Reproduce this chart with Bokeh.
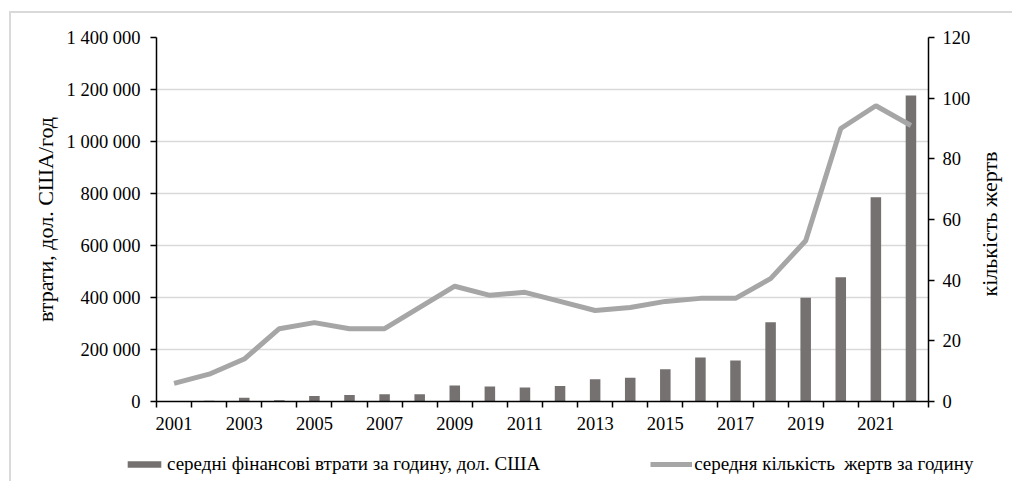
from bokeh.plotting import figure
from bokeh.models import (ColumnDataSource, LinearAxis, Range1d, FixedTicker,
                          Legend, LegendItem, Div)
from bokeh.embed import file_html
from bokeh.resources import INLINE

# Data: hourly average losses (USD) and hourly average number of victims
years = list(range(2001, 2023))
losses = [0, 3000, 14000, 5000, 21000, 25000, 28000, 28000, 62000, 58000, 54000,
          60000, 86000, 91000, 124000, 169000, 158000, 305000, 399000, 478000,
          786000, 1177000]
victims = [6, 9, 14, 24, 26, 24, 24, 31, 38, 35, 36, 33, 30, 31, 33, 34, 34,
           40.5, 53, 90, 97.5, 91]

left_ticks = [0, 200000, 400000, 600000, 800000, 1000000, 1200000, 1400000]
right_ticks = [0, 20, 40, 60, 80, 100, 120]
label_years = [y for y in years if y % 2 == 1]

FONT = "Liberation Serif"
BAR_COLOR = "#767171"
LINE_COLOR = "#a6a6a6"
TICK_SIZE = "18.5px"
TITLE_SIZE = "22px"
W = 1003

src = ColumnDataSource(dict(year=years, losses=losses, victims=victims))

p = figure(width=W, height=440, output_backend="svg", toolbar_location=None,
           x_range=Range1d(2000.5, 2022.5), y_range=Range1d(0, 1400000),
           min_border_left=145, min_border_right=86, min_border_top=24,
           min_border_bottom=52)
p.styles = {"margin-left": "9px", "margin-top": "11px",
            "border-left": "2px solid #d9d9d9", "border-top": "2px solid #d9d9d9"}
p.outline_line_color = None
p.background_fill_color = "white"
p.border_fill_color = "white"

p.extra_y_ranges = {"victims": Range1d(0, 120)}

p.vbar(x="year", top="losses", width=0.3, source=src,
       fill_color=BAR_COLOR, line_color=None)
p.line(x="year", y="victims", source=src, y_range_name="victims",
       line_color=LINE_COLOR, line_width=5)

# x axis: year labels at odd years, tick marks on category boundaries
xa = p.xaxis[0]
xa.ticker = FixedTicker(ticks=label_years,
                        minor_ticks=[y - 0.5 for y in years] + [years[-1] + 0.5])
xa.major_tick_out = 0
xa.major_tick_in = 0
xa.minor_tick_out = 6
xa.minor_tick_in = 0
xa.minor_tick_line_color = "black"
xa.minor_tick_line_width = 1.5
xa.axis_line_color = "black"
xa.axis_line_width = 1.5
xa.major_label_text_font = FONT
xa.major_label_text_font_size = TICK_SIZE
xa.major_label_text_color = "black"
xa.major_label_standoff = 9

# left axis
ya = p.yaxis[0]
ya.ticker = FixedTicker(ticks=left_ticks)
ya.major_label_overrides = {v: f"{v:,}".replace(",", " ") for v in left_ticks}
ya.minor_tick_line_color = None
ya.major_tick_out = 6
ya.major_tick_in = 0
ya.major_tick_line_color = "black"
ya.major_tick_line_width = 1.5
ya.axis_line_color = "black"
ya.axis_line_width = 1.5
ya.major_label_text_font = FONT
ya.major_label_text_font_size = TICK_SIZE
ya.major_label_text_color = "black"
ya.major_label_standoff = 10
ya.axis_label = "втрати, дол. США/год"
ya.axis_label_text_font = FONT
ya.axis_label_text_font_size = TITLE_SIZE
ya.axis_label_text_font_style = "normal"
ya.axis_label_text_color = "black"
ya.axis_label_standoff = 6

# right axis (its title is set separately, reading bottom to top)
ra = LinearAxis(y_range_name="victims", ticker=FixedTicker(ticks=right_ticks))
ra.minor_tick_line_color = None
ra.major_tick_out = 6
ra.major_tick_in = 0
ra.major_tick_line_color = "black"
ra.major_tick_line_width = 1.5
ra.axis_line_color = "black"
ra.axis_line_width = 1.5
ra.major_label_text_font = FONT
ra.major_label_text_font_size = TICK_SIZE
ra.major_label_text_color = "black"
ra.major_label_standoff = 8
p.add_layout(ra, "right")

p.xgrid.grid_line_color = None
p.ygrid.ticker = FixedTicker(ticks=left_ticks)
p.ygrid.grid_line_color = "#d9d9d9"
p.ygrid.grid_line_width = 1.5

# legend strip underneath the chart
lp = figure(width=W, height=30, output_backend="svg", toolbar_location=None,
            x_range=Range1d(0, 1), y_range=Range1d(0, 1),
            min_border=0, outline_line_color=None)
lp.styles = {"margin-left": "9px", "border-left": "2px solid #d9d9d9"}
lp.axis.visible = False
lp.grid.visible = False
lbars = lp.vbar(x="year", top="losses", width=0.3, source=src,
                fill_color=BAR_COLOR, line_color=None)
lline = lp.line(x="year", y="victims", source=src,
                line_color=LINE_COLOR, line_width=5)

legend = Legend(items=[
    LegendItem(label="середні фінансові втрати за годину, дол. США", renderers=[lbars]),
    LegendItem(label="середня кількість  жертв за годину", renderers=[lline]),
], orientation="horizontal", location=(112, 6))
legend.border_line_color = None
legend.background_fill_alpha = 0
legend.label_text_font = FONT
legend.label_text_font_size = "19px"
legend.label_text_color = "black"
legend.glyph_width = 42
legend.glyph_height = 8
legend.label_standoff = 2
legend.spacing = 110
legend.margin = 0
legend.padding = 0
legend.label_height = 18
lp.add_layout(legend, "center")

# right-hand axis title, rotated to read upwards beside the right axis
right_title = Div(text="кількість жертв", width=200, height=26,
                  styles={"position": "absolute", "left": "885px", "top": "206px",
                          "transform": "rotate(-90deg)",
                          "transform-origin": "100px 13px",
                          "text-align": "center", "line-height": "26px",
                          "white-space": "nowrap",
                          "font-family": FONT, "font-size": TITLE_SIZE,
                          "color": "black"})

open("out.html", "w").write(file_html([p, lp, right_title], INLINE))
